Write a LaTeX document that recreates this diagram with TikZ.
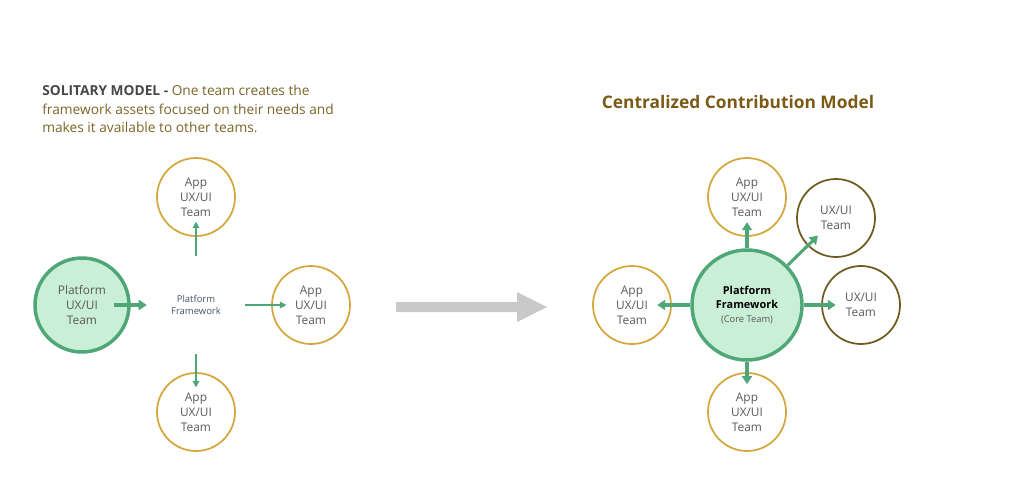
\documentclass[tikz,border=0pt]{standalone}
\usepackage{fontspec}
\setmainfont{Open Sans}
\usetikzlibrary{arrows.meta}

\definecolor{teamgreen}{HTML}{4FA676}
\definecolor{teamfill}{HTML}{C9EFD6}
\definecolor{apporange}{HTML}{D4A63C}
\definecolor{uxolive}{HTML}{6E5A1E}
\definecolor{titleolive}{HTML}{7A6426}
\definecolor{headolive}{HTML}{7A5A14}
\definecolor{labelgrey}{HTML}{595959}
\definecolor{fwslate}{HTML}{44546A}
\definecolor{biggrey}{HTML}{C9C9C9}

\begin{document}
\begin{tikzpicture}[x=0.75pt,y=0.75pt,yscale=-1,xscale=1,
  teamtext/.style={align=center,text=labelgrey,font=\fontsize{8.9}{11.25}\selectfont},
  appteam/.style={circle,draw=apporange,line width=1.3pt,minimum size=58.5pt,inner sep=0pt,teamtext},
  uxteam/.style={circle,draw=uxolive,line width=1.3pt,minimum size=58.5pt,inner sep=0pt,teamtext},
  coreteam/.style={circle,draw=teamgreen,fill=teamfill,line width=2.6pt,inner sep=0pt,teamtext},
  thinarrow/.style={draw=teamgreen,line width=1.1pt,-{Triangle[length=5pt,width=5pt]},shorten >=-11.5pt},
  thickarrow/.style={draw=teamgreen,line width=2.3pt,-{Triangle[length=6pt,width=7.5pt]},shorten >=-11pt}]
\useasboundingbox (0,0) rectangle (1024,496);

%Left: solitary model
% Text Node
\node[anchor=north west,inner sep=0pt,align=left,font=\fontsize{10.3}{13.9}\selectfont,text=titleolive] (soltitle) at (42,85)
  {\textcolor{labelgrey!80!black}{\bfseries SOLITARY MODEL -} One team creates the\\framework assets focused on their needs and\\makes it available to other teams.};

%Shape: Circle
\node[coreteam,minimum size=70.5pt] (platteam) at (82,305) {Platform\\UX/UI\\Team};
% Text Node
\node[minimum size=73.5pt,inner sep=0pt,align=center,text=fwslate,font=\fontsize{7.1}{9}\selectfont] (fw) at (196,305) {Platform\\Framework};

\node[appteam] (apptop) at (196,197) {App\\UX/UI\\Team};
\node[appteam] (appright) at (311,305) {App\\UX/UI\\Team};
\node[appteam] (appbot) at (196,412) {App\\UX/UI\\Team};

\draw[thickarrow,shorten <=-12.75pt,shorten >=0pt] (platteam) -- (fw);
\draw[thinarrow] (fw) -- (apptop);
\draw[thinarrow] (fw) -- (appright);
\draw[thinarrow] (fw) -- (appbot);

%Shape: big grey arrow
\fill[biggrey] (396,302) -- (517,302) -- (517,292) -- (547,307) -- (517,322) -- (517,312) -- (396,312) -- cycle;

%Right: centralized contribution model
% Text Node
\node[inner sep=0pt,text=headolive,font=\fontsize{13}{15}\selectfont\bfseries] (ccmtitle) at (738,102) {Centralized Contribution Model};

%Shape: Circle
\node[coreteam,minimum size=82.5pt] (core) at (747,305)
  {\textcolor{black}{\fontsize{8.2}{10}\selectfont\bfseries Platform}\\[-1pt]\textcolor{black}{\fontsize{8.2}{10}\selectfont\bfseries Framework}\\[-1pt]{\fontsize{7}{8.5}\selectfont (Core Team)}};

\node[appteam] (ctop) at (747,197) {App\\UX/UI\\Team};
\node[uxteam] (cne) at (836,218) {UX/UI\\Team};
\node[uxteam] (cright) at (861,305) {UX/UI\\Team};
\node[appteam] (cleft) at (632,305) {App\\UX/UI\\Team};
\node[appteam] (cbot) at (747,412) {App\\UX/UI\\Team};

\draw[thickarrow] (core) -- (ctop);
\draw[thickarrow] (core) -- (cne);
\draw[thickarrow] (core) -- (cright);
\draw[thickarrow] (core) -- (cleft);
\draw[thickarrow,shorten >=-9pt] (core) -- (cbot);
\end{tikzpicture}
\end{document}
